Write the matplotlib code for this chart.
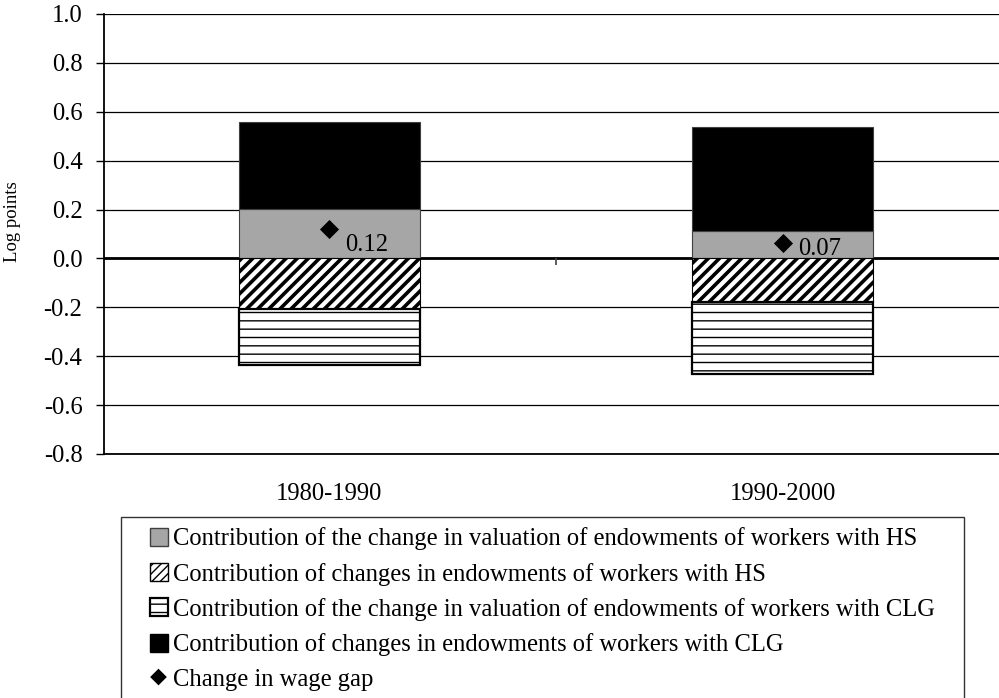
import numpy as np
import matplotlib
matplotlib.use("Agg")
import matplotlib.pyplot as plt
from matplotlib.patches import Patch, Rectangle, Polygon
from matplotlib.legend_handler import HandlerPatch

plt.rcParams["font.family"] = ["Liberation Serif", "DejaVu Serif"]

periods = ["1980-1990", "1990-2000"]
hs_valuation = [0.204, 0.114]      # grey, positive
hs_endowments = [-0.208, -0.178]   # diagonal hatch, negative
clg_valuation = [-0.226, -0.296]   # dashed, negative
clg_endowments = [0.355, 0.425]    # black, positive
wage_gap = [0.12, 0.065]
gap_labels = ["0.12", "0.07"]
y_ticks = np.round(np.arange(-0.8, 1.01, 0.2), 1) + 0.0

legend_labels = [
    "Contribution of the change in valuation of endowments of workers with HS",
    "Contribution of changes in endowments of workers with HS",
    "Contribution of the change in valuation of endowments of workers with CLG",
    "Contribution of changes in endowments of workers with CLG",
    "Change in wage gap",
]

FS = 17.7
GREY = "#a6a6a6"

fig = plt.figure(figsize=(9.99, 6.98), dpi=100)
ax = fig.add_axes([104 / 999, 1 - 454 / 698, 1 - 104 / 999, 440 / 698])

x = np.arange(len(periods))
w = 0.40
pos_base = np.array(hs_valuation)
neg_base = np.array(hs_endowments)

ax.bar(x, hs_valuation, w, color=GREY, edgecolor="#404040", linewidth=0.8, zorder=3)
ax.bar(x, clg_endowments, w, bottom=pos_base, color="black", edgecolor="#404040",
       linewidth=0.8, zorder=3)
with plt.rc_context({"hatch.linewidth": 2.6, "hatch.color": "black"}):
    ax.bar(x, hs_endowments, w, color="white", edgecolor="black", hatch="///",
           linewidth=0.8, zorder=3)
with plt.rc_context({"hatch.linewidth": 1.0, "hatch.color": "#6a6a6a"}):
    ax.bar(x, clg_valuation, w, bottom=neg_base, color="white", edgecolor="black",
           hatch="--", linewidth=1.6, zorder=3)

ax.scatter(x, wage_gap, marker="D", s=95, color="black", zorder=5, linewidths=0)
# label offsets in pixels (right of / below the diamond)
label_offsets = [(16, -16), (15, -6)]
for xi, yi, lab, off in zip(x, wage_gap, gap_labels, label_offsets):
    ax.annotate(lab, (xi, yi), xytext=off, textcoords="offset pixels",
                ha="left", va="center", fontsize=FS, zorder=6)

ax.set_xlim(-0.497, 1.477)
ax.set_ylim(-0.8, 1.0)
ax.set_yticks(y_ticks)
ax.set_yticklabels([f"{v:.1f}" for v in y_ticks], fontsize=FS)
ax.yaxis.grid(True, color="black", linewidth=0.9, zorder=0)
ax.axhline(0, color="black", linewidth=2.0, zorder=2)
ax.vlines(0.5, -0.026, 0, color="#404040", linewidth=1.2, zorder=2)
ax.set_axisbelow(True)

ax.set_xticks(x)
ax.set_xticklabels(periods, fontsize=FS)
ax.tick_params(axis="x", length=0, pad=21)
ax.tick_params(axis="y", length=6, width=1, pad=9.5)
ax.spines["top"].set_visible(False)
ax.spines["right"].set_visible(False)
ax.spines["left"].set_linewidth(1.3)
ax.spines["bottom"].set_linewidth(1.3)
ax.set_ylabel("Log points", fontsize=13.5)
ax.yaxis.set_label_coords(-0.093, 0.527)


def square_handle(legend, orig_handle, xdescent, ydescent, width, height, fontsize):
    sq = 13
    return Rectangle((width - sq - xdescent, -ydescent + height / 2 - sq / 2), sq, sq)


def diamond_handle(legend, orig_handle, xdescent, ydescent, width, height, fontsize):
    r = 6
    cx = width - 7 - xdescent
    cy = -ydescent + height / 2
    return Polygon([(cx - r, cy), (cx, cy + r), (cx + r, cy), (cx, cy - r)], closed=True)


handles = [
    Patch(facecolor=GREY, edgecolor="#404040", linewidth=1.0),
    Patch(facecolor="white", edgecolor="black", hatch="////", linewidth=1.0),
    Patch(facecolor="white", edgecolor="black", hatch="--", linewidth=1.6),
    Patch(facecolor="black", edgecolor="black"),
    Patch(facecolor="black", edgecolor="black", linewidth=0),
]
hmap = {h: HandlerPatch(patch_func=square_handle) for h in handles[:4]}
hmap[handles[4]] = HandlerPatch(patch_func=diamond_handle)

leg_top = 1 - 517 / 698
leg = fig.legend(handles, legend_labels, handler_map=hmap, loc="upper left",
                 bbox_to_anchor=(121 / 999, leg_top - 0.3, (964 - 121) / 999, 0.3),
                 mode="expand", fontsize=FS,
                 frameon=True, fancybox=False, edgecolor="black",
                 handlelength=1.5, handleheight=0.7, handletextpad=0.2,
                 labelspacing=0.5, borderpad=0.42, borderaxespad=0)
leg.get_frame().set_linewidth(1.0)

fig.savefig("out.png", dpi=100)
